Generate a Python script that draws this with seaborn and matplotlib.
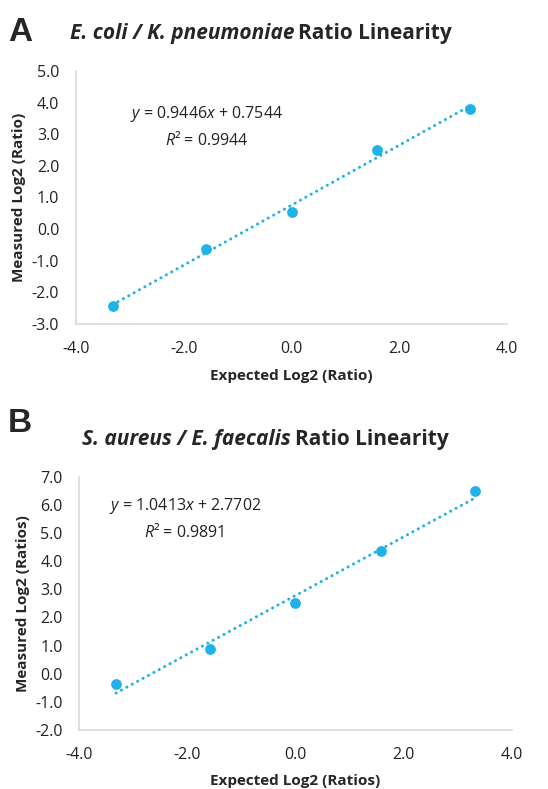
import numpy as np
import pandas as pd
import matplotlib
matplotlib.use("Agg")
import matplotlib.pyplot as plt
import seaborn as sns
from matplotlib.offsetbox import TextArea, HPacker, AnnotationBbox

# Expected log2 ratios (1:10, 1:3, 1:1, 3:1, 10:1)
expected = [-3.32, -1.58, 0.0, 1.58, 3.32]
measured_a = [-2.43, -0.62, 0.53, 2.49, 3.81]
measured_b = [-0.35, 0.89, 2.50, 4.35, 6.50]

eq_a = "$y$ = 0.9446$x$ + 0.7544\n$R$² = 0.9944"
eq_b = "$y$ = 1.0413$x$ + 2.7702\n$R$² = 0.9891"

yticks_a = [-3, -2, -1, 0, 1, 2, 3, 4, 5]
yticks_b = [-2, -1, 0, 1, 2, 3, 4, 5, 6, 7]
xticks = [-4, -2, 0, 2, 4]

BLUE = "#1fb2e6"
FONT = "Open Sans"

sns.set_style("white")
plt.rcParams["font.family"] = [FONT, "DejaVu Sans"]
plt.rcParams["axes.unicode_minus"] = False
plt.rcParams["mathtext.fontset"] = "custom"
plt.rcParams["mathtext.it"] = FONT + ":italic"
plt.rcParams["mathtext.rm"] = FONT


def draw_panel(ax, y, yticks, ylabel, xlabel, eq, eq_pos, xpad):
    df = pd.DataFrame({"x": expected, "y": y})
    sns.regplot(data=df, x="x", y="y", ax=ax, ci=None, color=BLUE,
                scatter_kws={"s": 60, "zorder": 3, "linewidths": 0, "alpha": 1},
                line_kws={"linestyle": (0, (0.01, 2.0)), "linewidth": 2.2,
                          "zorder": 2, "dash_capstyle": "round"})
    ax.set_xlim(-4, 4)
    ax.set_ylim(yticks[0], yticks[-1])
    ax.set_xticks(xticks)
    ax.set_yticks(yticks)
    ax.set_xticklabels([f"{v:.1f}" for v in xticks])
    ax.set_yticklabels([f"{v:.1f}" for v in yticks])
    ax.tick_params(length=0, labelsize=11.5, colors="#222222")
    ax.tick_params(axis="x", pad=12)
    ax.tick_params(axis="y", pad=12)
    for s in ["top", "right"]:
        ax.spines[s].set_visible(False)
    for s in ["left", "bottom"]:
        ax.spines[s].set_color("#d9d9d9")
        ax.spines[s].set_linewidth(1.2)
    ax.set_xlabel(xlabel, fontsize=11, fontweight="bold", labelpad=xpad)
    ax.set_ylabel(ylabel, fontsize=11, fontweight="bold", labelpad=4)
    ax.text(eq_pos[0], eq_pos[1], eq, transform=ax.transAxes, ha="center",
            va="center", fontsize=11.5, linespacing=1.45, color="#222222")


def title(fig, xy, italic, normal):
    props = dict(fontsize=15, fontweight="bold", family=[FONT])
    a = TextArea(italic, textprops=dict(style="italic", **props))
    b = TextArea(normal, textprops=props)
    box = HPacker(children=[a, b], pad=0, sep=3, align="baseline")
    ab = AnnotationBbox(box, xy, xycoords="figure fraction", frameon=False,
                        box_alignment=(0.5, 0.5))
    fig.add_artist(ab)


fig = plt.figure(figsize=(5.48, 7.89), dpi=100)
ax_a = fig.add_axes([0.1387, 0.5894, 0.7865, 0.3207])
ax_b = fig.add_axes([0.1447, 0.0748, 0.789, 0.321])

draw_panel(ax_a, measured_a, yticks_a, "Measured Log2 (Ratio)",
           "Expected Log2 (Ratio)", eq_a, (0.304, 0.78), 9)
draw_panel(ax_b, measured_b, yticks_b, "Measured Log2 (Ratios)",
           "Expected Log2 (Ratios)", eq_b, (0.244, 0.835), 8)

title(fig, (261 / 548, 1 - 34 / 789), "E. coli / K. pneumoniae", "Ratio Linearity")
title(fig, (265 / 548, 1 - 440 / 789), "S. aureus / E. faecalis", "Ratio Linearity")

fig.text(8 / 548, 1 - 41 / 789, "A", fontsize=24, fontweight="bold",
         family=["Liberation Sans"], ha="left", va="baseline")
fig.text(8 / 548, 1 - 432 / 789, "B", fontsize=24, fontweight="bold",
         family=["Liberation Sans"], ha="left", va="baseline")

fig.savefig("out.png", dpi=100)
